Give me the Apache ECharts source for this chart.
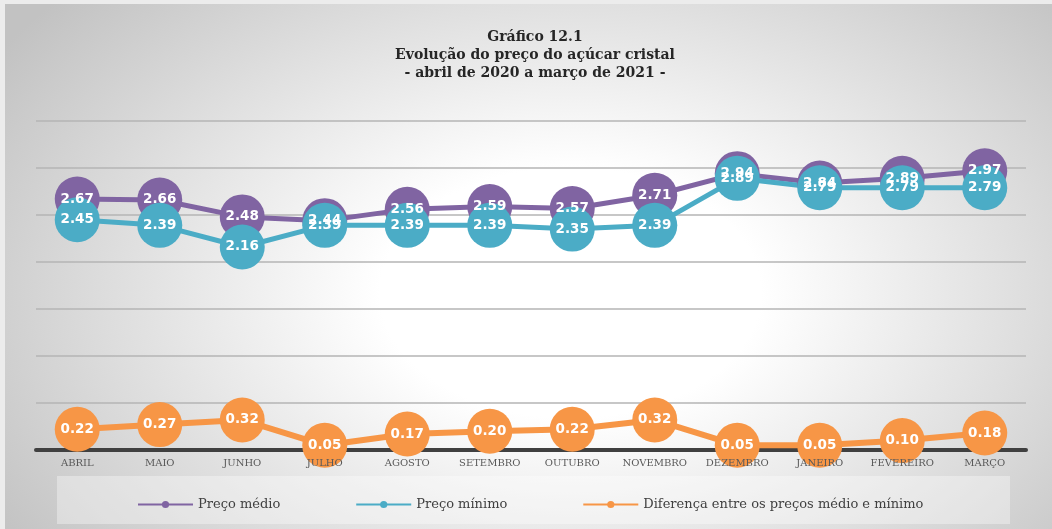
<!DOCTYPE html>
<html>
<head>
<meta charset="utf-8">
<script src="https://cdn.jsdelivr.net/npm/echarts@6/dist/echarts.min.js"></script>
<style>
  html, body { margin: 0; padding: 0; background: #ececec; }
  #main { width: 1052px; height: 529px; }
</style>
</head>
<body>
<div id="main"></div>
<script>
// categorias (meses)
var meses = ['ABRIL', 'MAIO', 'JUNHO', 'JULHO', 'AGOSTO', 'SETEMBRO', 'OUTUBRO', 'NOVEMBRO', 'DEZEMBRO', 'JANEIRO', 'FEVEREIRO', 'MARÇO']
// séries
var precoMedio = [2.67, 2.66, 2.48, 2.44, 2.56, 2.59, 2.57, 2.71, 2.94, 2.84, 2.89, 2.97]
var precoMinimo = [2.45, 2.39, 2.16, 2.39, 2.39, 2.39, 2.35, 2.39, 2.89, 2.79, 2.79, 2.79]
var diferenca = [0.22, 0.27, 0.32, 0.05, 0.17, 0.20, 0.22, 0.32, 0.05, 0.05, 0.10, 0.18]

var titulo = 'Gráfico 12.1\nEvolução do preço do açúcar cristal\n- abril de 2020 a março de 2021 -'

var myChart = echarts.init(document.getElementById('main'))

// rótulo branco dentro do círculo
function rotulo () {
  return {
    show: true,
    position: 'inside',
    color: '#ffffff',
    fontFamily: 'DejaVu Sans',
    fontWeight: 'bold',
    fontSize: 13.5,
    formatter: function (p) { return p.value.toFixed(2) }
  }
}

function serie (nome, dados, cor, largura) {
  return {
    name: nome,
    type: 'line',
    xAxisIndex: 0,
    data: dados,
    symbol: 'circle',
    symbolSize: 45,
    itemStyle: { color: cor },
    lineStyle: { color: cor, width: largura },
    label: rotulo(),
    emphasis: { disabled: true },
    animation: false
  }
}

myChart.setOption({
  animation: false,
  graphic: [
    {
      // fundo com gradiente radial (elíptico)
      type: 'rect',
      z: -10,
      x: 5,
      y: 4,
      scaleY: 525 / 800,
      shape: { x: 0, y: 0, width: 1047, height: 800 },
      style: {
        fill: {
          type: 'radial', x: 0.54, y: 0.55, r: 0.85,
          colorStops: [
            { offset: 0, color: '#ffffff' },
            { offset: 0.28, color: '#ffffff' },
            { offset: 1, color: '#c2c2c2' }
          ]
        }
      },
      silent: true
    },
    {
      // caixa da legenda
      type: 'rect',
      z: -5,
      shape: { x: 57, y: 476, width: 953, height: 48 },
      style: { fill: 'rgba(255,255,255,0.35)' },
      silent: true
    },
    {
      // título centralizado
      type: 'text',
      z: 10,
      x: 535,
      y: 28,
      style: {
        text: titulo,
        align: 'center',
        verticalAlign: 'top',
        fontFamily: 'DejaVu Serif',
        fontWeight: 'bold',
        fontSize: 14,
        lineHeight: 18,
        fill: '#262626'
      },
      silent: true
    }
  ],
  legend: {
    left: 132,
    top: 493,
    itemGap: 75,
    itemWidth: 55,
    itemHeight: 9,
    textStyle: {
      fontFamily: 'DejaVu Serif',
      fontSize: 13,
      color: '#404040'
    },
    data: ['Preço médio', 'Preço mínimo', 'Diferença entre os preços médio e mínimo']
  },
  grid: {
    left: 36,
    right: 26,
    top: 121,
    bottom: 79
  },
  xAxis: [
    {
      // eixo: só a linha
      type: 'category',
      data: meses,
      position: 'bottom',
      axisLine: { lineStyle: { color: '#404040', width: 4 } },
      axisTick: { show: false },
      axisLabel: { show: false }
    },
    {
      // rótulos por cima dos círculos
      type: 'category',
      data: meses,
      position: 'bottom',
      offset: 0,
      z: 20,
      axisLine: { show: false },
      axisTick: { show: false },
      splitLine: { show: false },
      axisLabel: {
        interval: 0,
        margin: 8,
        fontFamily: 'DejaVu Serif',
        fontSize: 10,
        color: '#595959'
      }
    }
  ],
  yAxis: {
    type: 'value',
    min: 0,
    max: 3.5,
    interval: 0.5,
    axisLabel: { show: false },
    axisLine: { show: false },
    axisTick: { show: false },
    splitLine: { lineStyle: { color: '#b4b4b4', width: 1.5 } }
  },
  series: [
    serie('Preço médio', precoMedio, '#8064A2', 5),
    serie('Preço mínimo', precoMinimo, '#4BACC6', 5),
    serie('Diferença entre os preços médio e mínimo', diferenca, '#F79646', 6)
  ]
})
</script>
</body>
</html>
